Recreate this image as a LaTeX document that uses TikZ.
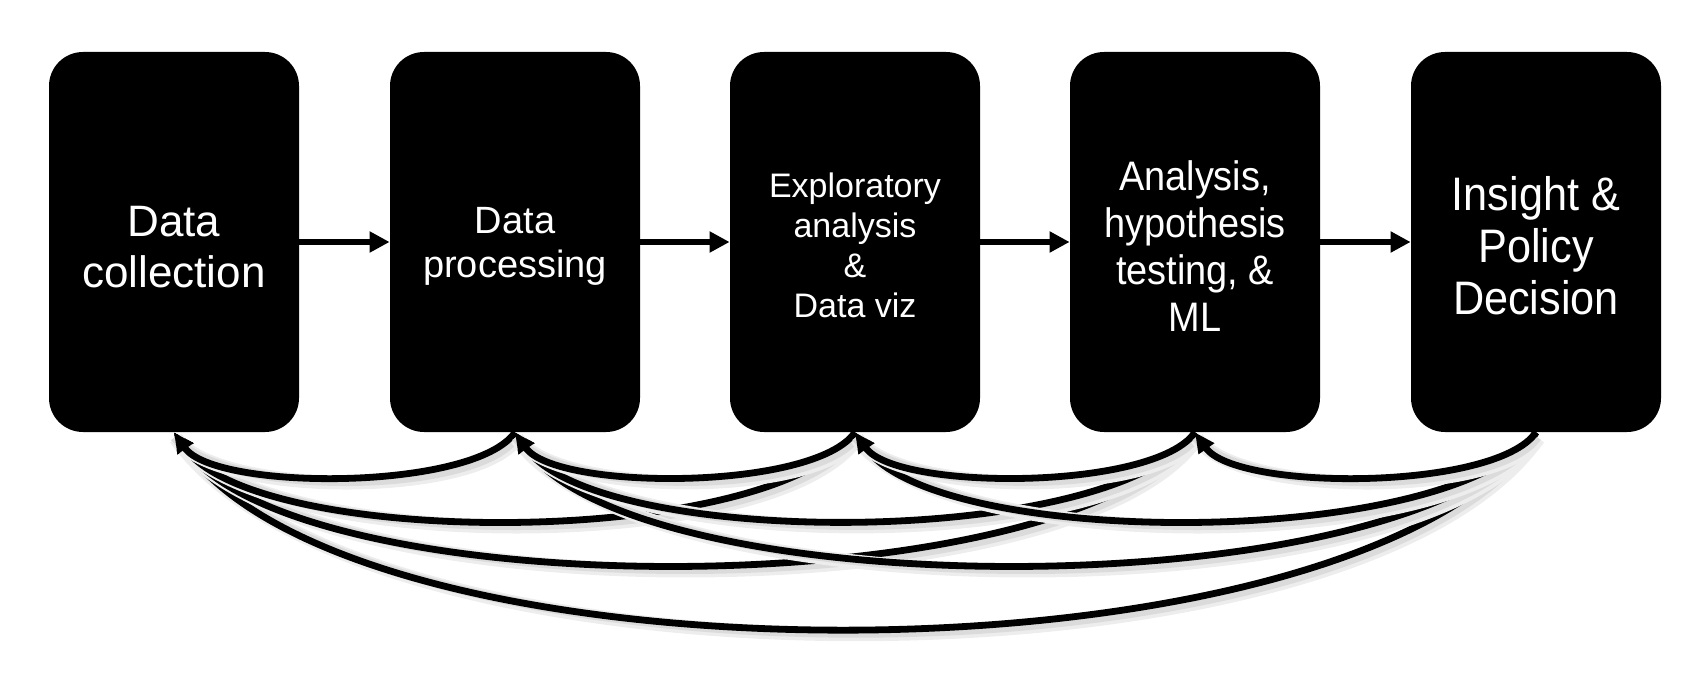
\documentclass[tikz,border=0pt]{standalone}
\usepackage{fontspec}
\setmainfont{Liberation Sans}
\newfontfamily\narrowfont[FakeStretch=0.92]{Liberation Sans}
\usetikzlibrary{arrows.meta}
\newcommand{\topstrut}{\rule{0pt}{0.9em}}
\tikzset{
  stagebox/.style={fill=black, draw=none, rounded corners=17pt, minimum width=125pt, minimum height=190pt, text=white, align=center, inner sep=0pt},
  fwd/.style={line width=3pt, -{Triangle[length=10pt,width=10pt]}},
  shadowed/.style={preaction={draw=black!7, line width=7pt, -, transform canvas={xshift=1pt,yshift=-3pt}},
                   preaction={draw=black!14, line width=4.5pt, -, transform canvas={xshift=0.5pt,yshift=-2.5pt}}},
  back/.style={shadowed, line width=3.4pt, -{Triangle[length=10pt,width=9pt]}, out=-125, in=-55, looseness=0.54}
}
\begin{document}
\begin{tikzpicture}[x=0.5pt,y=-0.5pt]
\useasboundingbox (0,0) rectangle (1707,684);
\node[stagebox, font=\fontsize{22}{25.5}\selectfont] (b1) at (174,242) {\topstrut Data\\collection};
\node[stagebox, font=\fontsize{19}{22}\selectfont] (b2) at (515,242) {\topstrut Data\\processing};
\node[stagebox, font=\fontsize{17}{20}\selectfont] (b3) at (855,242) {\topstrut Exploratory\\analysis\\\&\\Data viz};
\node[stagebox, font=\narrowfont\fontsize{20.6}{23.5}\selectfont] (b4) at (1195,242) {\topstrut Analysis,\\hypothesis\\testing, \&\\ML};
\node[stagebox, font=\narrowfont\fontsize{23.5}{26}\selectfont] (b5) at (1536,242) {\topstrut Insight \&\\Policy\\Decision};
\draw[fwd] (b1.east) -- (b2.west);
\draw[fwd] (b2.east) -- (b3.west);
\draw[fwd] (b3.east) -- (b4.west);
\draw[fwd] (b4.east) -- (b5.west);
\draw[back, looseness=0.6] (b5.south) to (b1.south);
\draw[back] (b4.south) to (b1.south);
\draw[back] (b3.south) to (b1.south);
\draw[back] (b2.south) to (b1.south);
\draw[back] (b5.south) to (b2.south);
\draw[back] (b4.south) to (b2.south);
\draw[back] (b3.south) to (b2.south);
\draw[back] (b5.south) to (b3.south);
\draw[back] (b4.south) to (b3.south);
\draw[back] (b5.south) to (b4.south);
\end{tikzpicture}
\end{document}
